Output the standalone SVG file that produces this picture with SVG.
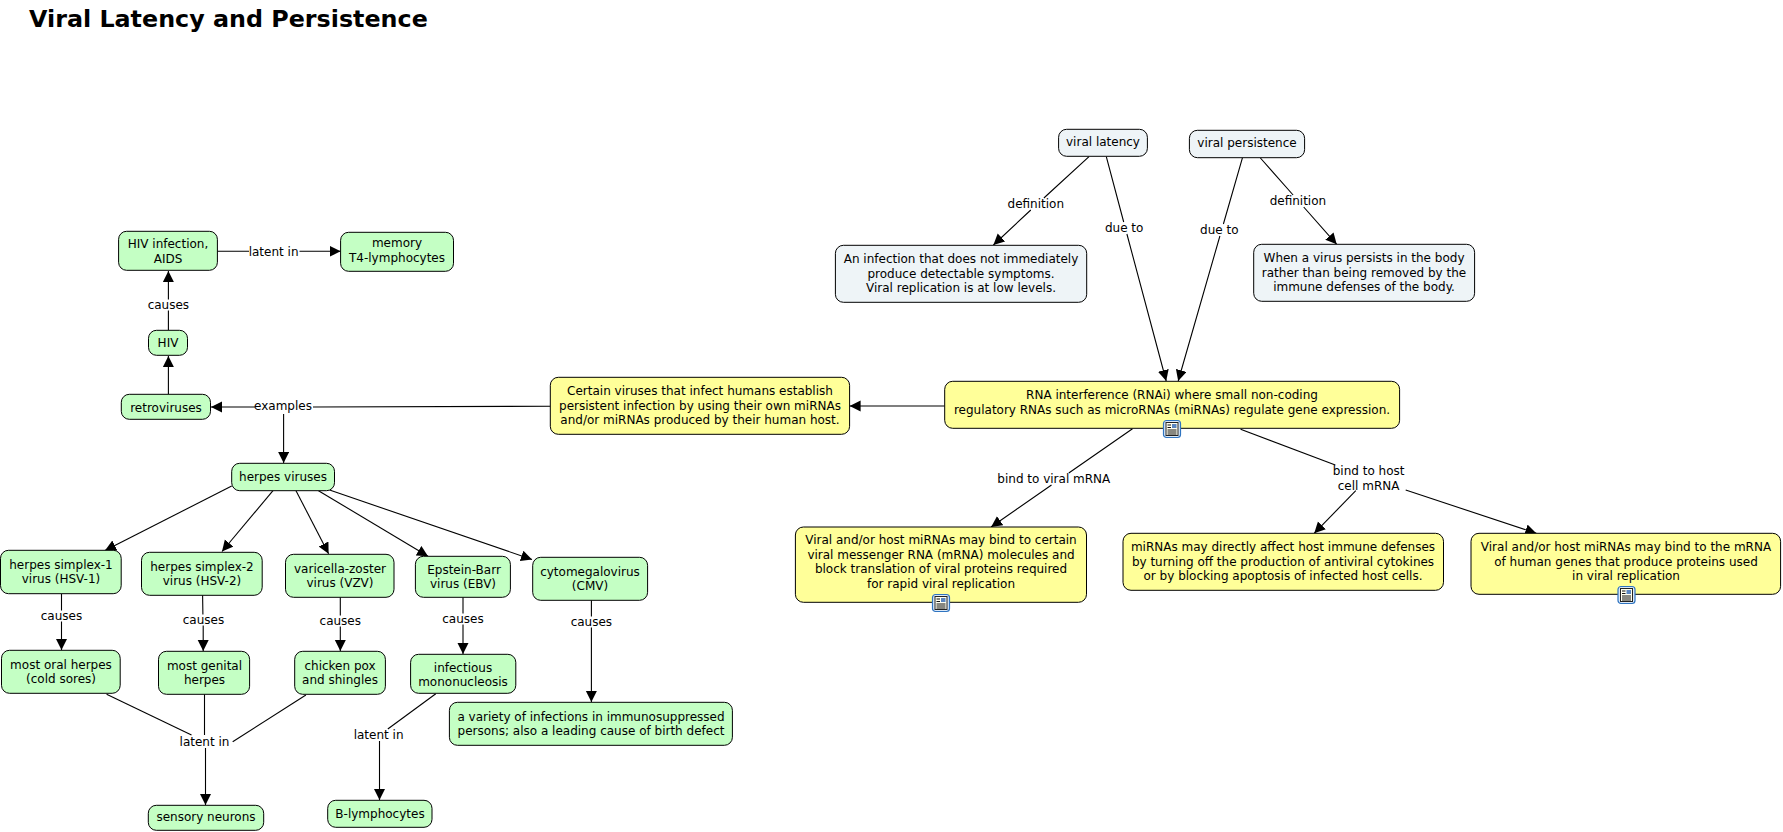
<svg xmlns="http://www.w3.org/2000/svg" width="1783" height="832" viewBox="0 0 1783 832">
<style>
text{font-family:"DejaVu Sans",Verdana,sans-serif;font-size:12px;fill:#000;text-anchor:middle}
.title{font-size:23.8px;font-weight:bold;text-anchor:start}
.n{stroke:#000;stroke-width:1}
.g{fill:#c4ffc4}.y{fill:#ffff99}.b{fill:#eef4f7}
#edges path{fill:none;stroke:#000;stroke-width:1.1}
#edges path.a{marker-end:url(#arr)}
</style>
<defs>
<marker id="arr" markerUnits="userSpaceOnUse" markerWidth="12" markerHeight="12" refX="11" refY="5.5" orient="auto"><path d="M0 0L11 5.5L0 11Z" fill="#000"/></marker>
<g id="icon"><rect x="0.5" y="0.5" width="17" height="17" rx="3" fill="#dbe9f8" stroke="#2f74c0" stroke-width="1.2"/><rect x="3" y="2.5" width="12" height="13" fill="#fffff0" stroke="#222" stroke-width="1"/><rect x="9" y="4" width="4.5" height="4" fill="#5a86c0"/><path d="M4.5 5h3.5M4.5 7.5h3.5M4.5 10h9M4.5 12h9M4.5 14h9" stroke="#111" stroke-width="1" fill="none"/></g>
</defs>
<rect width="1783" height="832" fill="#fff"/>
<text class="title" x="29" y="27">Viral Latency and Persistence</text>
<g id="edges">
<path d="M217.4 251.3H249M299.5 251.3H340.6" class="a"/>
<path d="M168.4 330V310.5M168.4 299.5V271" class="a"/>
<path d="M168.4 394V356" class="a"/>
<path d="M550.3 406.3L313 407"/>
<path d="M255 407H211" class="a"/>
<path d="M283.6 414V463" class="a"/>
<path d="M231.7 486L105 550.5" class="a"/>
<path d="M273 490.7L222 551.5" class="a"/>
<path d="M296 490.7L328.6 553.8" class="a"/>
<path d="M318.5 490.7L428 556.3" class="a"/>
<path d="M329.6 490L532 559.5" class="a"/>
<path d="M61.5 594V610.5M61.5 621.5V650" class="a"/>
<path d="M202.6 595.3L202.9 614.5M203.2 625.5V651" class="a"/>
<path d="M340.3 597.3V615.5M340.3 626.5V651" class="a"/>
<path d="M463 597.3V613.5M463 624.5V654" class="a"/>
<path d="M591.4 600.3V616.5M591.4 627.5V702" class="a"/>
<path d="M106.6 694.3L191.5 735"/>
<path d="M204.5 694.3V735"/>
<path d="M305.9 695L232.7 741.7"/>
<path d="M205.5 748V805" class="a"/>
<path d="M435.8 693.7L387.8 729"/>
<path d="M379.5 741V800" class="a"/>
<path d="M1089 156.7L1043.9 198M1030.8 210L993.4 245" class="a"/>
<path d="M1106.3 156.7L1123.7 222M1126.9 234L1166.2 381" class="a"/>
<path d="M1242.5 157.7L1223.4 224M1219.9 236L1178.2 381" class="a"/>
<path d="M1260.4 158L1293.1 195M1303.7 207L1336.7 244.3" class="a"/>
<path d="M944.7 406H849.6" class="a"/>
<path d="M1132.5 428.7L1068.8 473M1051.5 485L991.1 527" class="a"/>
<path d="M1240.6 429.3L1335.3 465"/>
<path d="M1355.8 490.7L1314.2 533.3" class="a"/>
<path d="M1405.7 490L1536.3 533.3" class="a"/>
</g>
<g id="edge-labels">
<text x="273.6" y="255.5">latent in</text>
<text x="168.4" y="309.3">causes</text>
<text x="283" y="410.3">examples</text>
<text x="61.5" y="620">causes</text>
<text x="203.5" y="624">causes</text>
<text x="340.3" y="625">causes</text>
<text x="463" y="623">causes</text>
<text x="591.4" y="626">causes</text>
<text x="204.5" y="746">latent in</text>
<text x="378.6" y="739.3">latent in</text>
<text x="1035.8" y="208.3">definition</text>
<text x="1124.2" y="232.3">due to</text>
<text x="1219.3" y="234.3">due to</text>
<text x="1297.9" y="205">definition</text>
<text x="1053.8" y="483.3">bind to viral mRNA</text>
<text x="1368.6" y="475.3">bind to host</text>
<text x="1368.6" y="490">cell mRNA</text>
</g>
<g id="hiv-infection"><rect class="n g" x="118.6" y="231.3" width="98.8" height="39" rx="8"/><text x="168" y="248">HIV infection,</text><text x="168" y="262.5">AIDS</text></g>
<g id="memory"><rect class="n g" x="340.6" y="232.3" width="112.9" height="39" rx="8"/><text x="397" y="247">memory</text><text x="397" y="261.5">T4-lymphocytes</text></g>
<g id="hiv"><rect class="n g" x="148.5" y="330.3" width="39" height="25" rx="8"/><text x="168" y="347">HIV</text></g>
<g id="retroviruses"><rect class="n g" x="121.3" y="394.3" width="89.2" height="25" rx="8"/><text x="166" y="412">retroviruses</text></g>
<g id="certain"><rect class="n y" x="550.3" y="377.3" width="299.3" height="57" rx="8"/><text x="700" y="395">Certain viruses that infect humans establish</text><text x="700" y="409.5">persistent infection by using their own miRNAs</text><text x="700" y="424">and/or miRNAs produced by their human host.</text></g>
<g id="herpes"><rect class="n g" x="231.7" y="463.3" width="102.8" height="27.4" rx="8"/><text x="283" y="480.5">herpes viruses</text></g>
<g id="hsv1"><rect class="n g" x="0.5" y="550.3" width="120.7" height="43.4" rx="8"/><text x="61" y="568.5">herpes simplex-1</text><text x="61" y="583">virus (HSV-1)</text></g>
<g id="hsv2"><rect class="n g" x="141.5" y="552.3" width="120.7" height="43" rx="8"/><text x="202" y="570.5">herpes simplex-2</text><text x="202" y="585">virus (HSV-2)</text></g>
<g id="vzv"><rect class="n g" x="285.5" y="554.3" width="108.5" height="43" rx="8"/><text x="340" y="572.5">varicella-zoster</text><text x="340" y="587">virus (VZV)</text></g>
<g id="ebv"><rect class="n g" x="415.4" y="556.3" width="95" height="41" rx="8"/><text x="464" y="573.5">Epstein-Barr</text><text x="463" y="588">virus (EBV)</text></g>
<g id="cmv"><rect class="n g" x="532.7" y="557.3" width="114.9" height="43" rx="8"/><text x="590" y="575.5">cytomegalovirus</text><text x="590" y="590">(CMV)</text></g>
<g id="oral"><rect class="n g" x="1.5" y="650.3" width="118.7" height="43" rx="8"/><text x="61" y="668.5">most oral herpes</text><text x="61" y="683">(cold sores)</text></g>
<g id="genital"><rect class="n g" x="158.5" y="651.3" width="91.1" height="43" rx="8"/><text x="204.5" y="669.5">most genital</text><text x="204.5" y="684">herpes</text></g>
<g id="chicken"><rect class="n g" x="294.7" y="651.3" width="90.7" height="43" rx="8"/><text x="340" y="669.5">chicken pox</text><text x="340" y="684">and shingles</text></g>
<g id="mono"><rect class="n g" x="410.6" y="654.3" width="105.2" height="39" rx="8"/><text x="463" y="671.5">infectious</text><text x="463" y="686">mononucleosis</text></g>
<g id="variety"><rect class="n g" x="449.4" y="702.3" width="283" height="43" rx="8"/><text x="591" y="720.5">a variety of infections in immunosuppressed</text><text x="591" y="735">persons; also a leading cause of birth defect</text></g>
<g id="sensory"><rect class="n g" x="148.3" y="805.3" width="115.4" height="25" rx="8"/><text x="206" y="820.5">sensory neurons</text></g>
<g id="blymph"><rect class="n g" x="327.7" y="800.3" width="104.3" height="27" rx="8"/><text x="380" y="817.5">B-lymphocytes</text></g>
<g id="latency"><rect class="n b" x="1058.6" y="129.3" width="88.8" height="27" rx="8"/><text x="1103" y="146">viral latency</text></g>
<g id="persistence"><rect class="n b" x="1189.4" y="130.3" width="115.2" height="27.4" rx="8"/><text x="1247" y="147">viral persistence</text></g>
<g id="def-latency"><rect class="n b" x="835.4" y="245.3" width="251.3" height="57" rx="8"/><text x="961" y="263">An infection that does not immediately</text><text x="961" y="277.5">produce detectable symptoms.</text><text x="961" y="292">Viral replication is at low levels.</text></g>
<g id="def-persistence"><rect class="n b" x="1253.7" y="244.3" width="220.9" height="57" rx="8"/><text x="1364" y="262">When a virus persists in the body</text><text x="1364" y="276.5">rather than being removed by the</text><text x="1364" y="291">immune defenses of the body.</text></g>
<g id="rnai"><rect class="n y" x="944.7" y="381.3" width="454.9" height="47" rx="8"/><text x="1172" y="399.3">RNA interference (RNAi) where small non-coding</text><text x="1172" y="413.8">regulatory RNAs such as microRNAs (miRNAs) regulate gene expression.</text><use href="#icon" x="1163" y="420"/></g>
<g id="viral-mrna"><rect class="n y" x="795.4" y="527" width="291.1" height="75.3" rx="8"/><text x="941" y="544">Viral and/or host miRNAs may bind to certain</text><text x="941" y="558.5">viral messenger RNA (mRNA) molecules and</text><text x="941" y="573">block translation of viral proteins required</text><text x="941" y="587.5">for rapid viral replication</text><use href="#icon" x="932" y="594"/></g>
<g id="host-immune"><rect class="n y" x="1123" y="533.3" width="320.5" height="57" rx="8"/><text x="1283" y="551">miRNAs may directly affect host immune defenses</text><text x="1283" y="565.5">by turning off the production of antiviral cytokines</text><text x="1283" y="580">or by blocking apoptosis of infected host cells.</text></g>
<g id="host-genes"><rect class="n y" x="1471" y="533.3" width="309.6" height="61" rx="8"/><text x="1626" y="551">Viral and/or host miRNAs may bind to the mRNA</text><text x="1626" y="565.5">of human genes that produce proteins used</text><text x="1626" y="580">in viral replication</text><use href="#icon" x="1617.5" y="586"/></g>
</svg>
